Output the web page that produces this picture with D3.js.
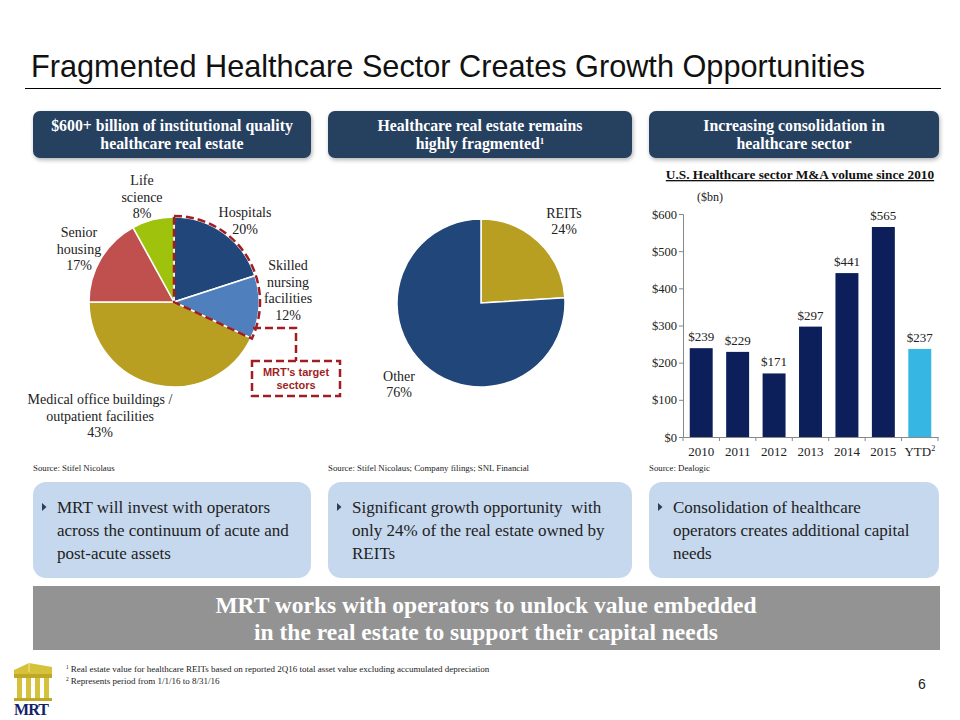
<!DOCTYPE html>
<html><head><meta charset="utf-8">
<script src="https://cdn.jsdelivr.net/npm/d3@7"></script>
<style>
html,body{margin:0;padding:0;background:#fff;}
svg{display:block;}
</style></head>
<body>
<svg id="c" width="960" height="720"></svg>
<script>
// ---------- data ----------
const sectorNames = ["Hospitals", "Skilled nursing facilities", "Medical office buildings / outpatient facilities", "Senior housing", "Life science"];
const sectorShares = [20, 12, 43, 17, 8];
const ownerNames = ["REITs", "Other"];
const ownerShares = [24, 76];
const years = ["2010", "2011", "2012", "2013", "2014", "2015", "YTD"];
const volumes = [239, 229, 171, 297, 441, 565, 237];
const yTickValues = [0, 100, 200, 300, 400, 500, 600];

const sectorColors = ["#21467a", "#4f7fbc", "#b89f21", "#c0504e", "#9fc20c"];
const ownerColors = ["#b89f21", "#21467a"];
const SERIF = "'Liberation Serif','Times New Roman',serif";
const SANS = "'Liberation Sans',Arial,sans-serif";

const svg = d3.select("#c");
const defs = svg.append("defs");
const f = defs.append("filter").attr("id","sh").attr("x","-10%").attr("y","-20%").attr("width","120%").attr("height","150%");
f.append("feDropShadow").attr("dx",1).attr("dy",2).attr("stdDeviation",2).attr("flood-color","#000").attr("flood-opacity",0.3);

// ---------- title ----------
svg.append("text").attr("x",31).attr("y",77).attr("font-family",SANS).attr("font-size",30.5)
  .attr("textLength",834).attr("lengthAdjust","spacingAndGlyphs")
  .attr("fill","#111").text("Fragmented Healthcare Sector Creates Growth Opportunities");
svg.append("line").attr("x1",25).attr("x2",941).attr("y1",88.5).attr("y2",88.5).attr("stroke","#000").attr("stroke-width",1.2);

// ---------- header boxes ----------
const headers = [
  {x:33,w:278,lines:["$600+ billion of institutional quality","healthcare real estate"]},
  {x:328,w:304,lines:["Healthcare real estate remains","highly fragmented"],sup:"1"},
  {x:649,w:290,lines:["Increasing consolidation in","healthcare sector"]}
];
headers.forEach(h=>{
  svg.append("rect").attr("x",h.x).attr("y",111).attr("width",h.w).attr("height",47).attr("rx",7)
    .attr("fill","#253f61").attr("filter","url(#sh)");
  h.lines.forEach((l,i)=>{
    const t = svg.append("text").attr("x",h.x+h.w/2).attr("y",131+i*18).attr("text-anchor","middle")
      .attr("font-family",SERIF).attr("font-weight","bold").attr("font-size",15.8).attr("fill","#fff").text(l);
    if(h.sup && i===h.lines.length-1){
      t.append("tspan").attr("font-size",9).attr("dy",-5).text(h.sup);
    }
  });
});

// ---------- pie 1 ----------
const pie = d3.pie().sort(null).value(d=>d);
const c1 = {x:174,y:302}, r1 = 85;
const arc1 = d3.arc().innerRadius(0).outerRadius(r1);
const g1 = svg.append("g").attr("transform",`translate(${c1.x},${c1.y})`);
const arcs1 = pie(sectorShares);
g1.selectAll("path").data(arcs1).join("path").attr("d",arc1)
  .attr("fill",(d,i)=>sectorColors[i]).attr("stroke","#fff").attr("stroke-width",1.5);

// target outline (hospitals + skilled nursing)
const targetEnd = arcs1[1].endAngle;
g1.append("path").attr("d",d3.arc().innerRadius(0).outerRadius(r1+1)({startAngle:0,endAngle:targetEnd}))
  .attr("fill","none").attr("stroke","#a01e23").attr("stroke-width",2.5).attr("stroke-dasharray","8,4");

const labelData1 = [
  {lines:["Hospitals", sectorShares[0]+"%"], x:245, y:217},
  {lines:["Skilled","nursing","facilities", sectorShares[1]+"%"], x:288, y:270},
  {lines:["Medical office buildings /","outpatient facilities", sectorShares[2]+"%"], x:100, y:404},
  {lines:["Senior","housing", sectorShares[3]+"%"], x:79, y:237},
  {lines:["Life","science", sectorShares[4]+"%"], x:142, y:185}
];
labelData1.forEach(L=>{
  L.lines.forEach((l,i)=>{
    svg.append("text").attr("x",L.x).attr("y",L.y+i*16.5).attr("text-anchor","middle")
      .attr("font-family",SERIF).attr("font-size",14).attr("fill","#222").text(l);
  });
});

// connector + callout box
svg.append("path").attr("d","M253,328 H296 V361").attr("fill","none")
  .attr("stroke","#a01e23").attr("stroke-width",2.5).attr("stroke-dasharray","8,4");
svg.append("rect").attr("x",252).attr("y",361).attr("width",88).attr("height",35)
  .attr("fill","#fff").attr("stroke","#a01e23").attr("stroke-width",2.5).attr("stroke-dasharray","8,4");
["MRT\u2019s target","sectors"].forEach((l,i)=>{
  svg.append("text").attr("x",296).attr("y",376+i*13).attr("text-anchor","middle")
    .attr("font-family",SANS).attr("font-weight","bold").attr("font-size",11).attr("fill","#a01e23").text(l);
});

// ---------- pie 2 ----------
const c2 = {x:481,y:303}, r2 = 84;
const arc2 = d3.arc().innerRadius(0).outerRadius(r2);
const g2 = svg.append("g").attr("transform",`translate(${c2.x},${c2.y})`);
g2.selectAll("path").data(pie(ownerShares)).join("path").attr("d",arc2)
  .attr("fill",(d,i)=>ownerColors[i]).attr("stroke","#fff").attr("stroke-width",1.5);
const labelData2 = [
  {lines:[ownerNames[0], ownerShares[0]+"%"], x:564, y:218},
  {lines:[ownerNames[1], ownerShares[1]+"%"], x:399, y:381}
];
labelData2.forEach(L=>{
  L.lines.forEach((l,i)=>{
    svg.append("text").attr("x",L.x).attr("y",L.y+i*16).attr("text-anchor","middle")
      .attr("font-family",SERIF).attr("font-size",14).attr("fill","#222").text(l);
  });
});

// ---------- bar chart ----------
svg.append("text").attr("x",800).attr("y",179).attr("text-anchor","middle")
  .attr("font-family",SERIF).attr("font-weight","bold").attr("font-size",13.3).attr("fill","#111")
  .attr("text-decoration","underline").text("U.S. Healthcare sector M&A volume since 2010");
svg.append("text").attr("x",710).attr("y",201).attr("text-anchor","middle")
  .attr("font-family",SERIF).attr("font-size",12).attr("fill","#222").text("($bn)");

const x = d3.scaleBand().domain(years).range([683,938]).paddingInner(0.37).paddingOuter(0.185);
const y = d3.scaleLinear().domain([0,600]).range([437,214]);

svg.append("g").selectAll("rect").data(years).join("rect")
  .attr("x",d=>x(d)).attr("width",x.bandwidth())
  .attr("y",(d,i)=>y(volumes[i])).attr("height",(d,i)=>y(0)-y(volumes[i]))
  .attr("fill",(d,i)=>d==="YTD"?"#36b6e2":"#0c1f5b");

svg.append("g").selectAll("text").data(years).join("text")
  .attr("x",d=>x(d)+x.bandwidth()/2).attr("y",(d,i)=>y(volumes[i])-7)
  .attr("text-anchor","middle").attr("font-family",SERIF).attr("font-size",13).attr("fill","#222")
  .text((d,i)=>"$"+volumes[i]);

const yAxis = svg.append("g").attr("transform","translate(683,0)")
  .call(d3.axisLeft(y).tickValues(yTickValues).tickSize(4).tickFormat(d=>"$"+d));
yAxis.select(".domain").attr("stroke","#888");
yAxis.selectAll(".tick line").attr("stroke","#888");
yAxis.selectAll(".tick text").attr("font-family",SERIF).attr("font-size",12.5).attr("fill","#222").attr("x",-6);

const xAxis = svg.append("g").attr("transform","translate(0,437)")
  .call(d3.axisBottom(x).tickSize(0).tickSizeOuter(0).tickFormat(d=>d==="YTD"?"YTD":d));
xAxis.select(".domain").attr("stroke","#888");
xAxis.selectAll(".tick text").attr("font-family",SERIF).attr("font-size",13).attr("fill","#222").attr("dy","1.25em");
xAxis.selectAll(".tick text").filter(d=>d==="YTD").append("tspan").attr("font-size",8).attr("dy",-5).text("2");
// boundary ticks
const bounds = d3.range(years.length+1).map(i=>683+i*(255/years.length));
svg.append("g").selectAll("line").data(bounds).join("line")
  .attr("x1",d=>d).attr("x2",d=>d).attr("y1",437).attr("y2",441).attr("stroke","#888");

// ---------- sources ----------
[["Source: Stifel Nicolaus",33],["Source: Stifel Nicolaus; Company filings; SNL Financial",328],["Source: Dealogic",649]].forEach(s=>{
  svg.append("text").attr("x",s[1]).attr("y",471).attr("font-family",SERIF).attr("font-size",8.8).attr("fill","#222").text(s[0]);
});

// ---------- bullet boxes ----------
const bullets = [
  {x:33,w:278,lines:["MRT will invest with operators","across the continuum of acute and","post-acute assets"]},
  {x:328,w:304,lines:["Significant growth opportunity  with","only 24% of the real estate owned by","REITs"]},
  {x:649,w:290,lines:["Consolidation of healthcare","operators creates additional capital","needs"]}
];
bullets.forEach(b=>{
  svg.append("rect").attr("x",b.x).attr("y",482).attr("width",b.w).attr("height",96).attr("rx",13).attr("fill","#c6d8ee");
  svg.append("path").attr("d",`M${b.x+9},${503} l4.5,4 l-4.5,4 z`).attr("fill","#2d3d55");
  b.lines.forEach((l,i)=>{
    svg.append("text").attr("x",b.x+24).attr("y",513+i*23).attr("font-family",SERIF).attr("font-size",17)
      .attr("fill","#222").attr("xml:space","preserve").text(l);
  });
});

// ---------- banner ----------
svg.append("rect").attr("x",33).attr("y",586).attr("width",907).attr("height",64).attr("fill","#939393");
["MRT works with operators to unlock value embedded","in the real estate to support their capital needs"].forEach((l,i)=>{
  svg.append("text").attr("x",486).attr("y",613+i*27).attr("text-anchor","middle").attr("font-family",SERIF)
    .attr("font-weight","bold").attr("font-size",23.5).attr("fill","#fff").text(l);
});

// ---------- footnotes ----------
[["1","Real estate value for healthcare REITs based on reported 2Q16 total asset value excluding accumulated depreciation"],
 ["2","Represents period from 1/1/16 to 8/31/16"]].forEach((n,i)=>{
  const t = svg.append("text").attr("x",66).attr("y",672+i*12).attr("font-family",SERIF).attr("font-size",9).attr("fill","#222");
  t.append("tspan").attr("font-size",5.5).attr("dy",-3).text(n[0]);
  t.append("tspan").attr("dy",3).attr("dx",2).text(n[1]);
});
svg.append("text").attr("x",922).attr("y",689).attr("text-anchor","middle").attr("font-family",SANS).attr("font-size",14).attr("fill","#222").text("6");

// ---------- logo ----------
const lg = svg.append("g").attr("transform","translate(9,663)");
const gold = "#d6c23a";
lg.append("path").attr("d","M5,7 L20,0 L43,4 L43,11 L5,11 Z").attr("fill",gold);
lg.append("path").attr("d","M20,0 L20,9").attr("stroke","#f3e88a").attr("stroke-width",1);
lg.append("rect").attr("x",5).attr("y",11).attr("width",38).attr("height",4).attr("fill","#bfa72a");
[8,17,26,35].forEach(cx=>lg.append("rect").attr("x",cx).attr("y",15).attr("width",5).attr("height",21).attr("fill",gold));
lg.append("rect").attr("x",5).attr("y",35).attr("width",38).attr("height",3).attr("fill","#bfa72a");
svg.append("text").attr("x",31).attr("y",715).attr("text-anchor","middle").attr("font-family",SERIF)
  .attr("font-weight","bold").attr("font-size",16).attr("fill","#14226a").attr("letter-spacing",-1).text("MRT");
</script>
</body></html>
